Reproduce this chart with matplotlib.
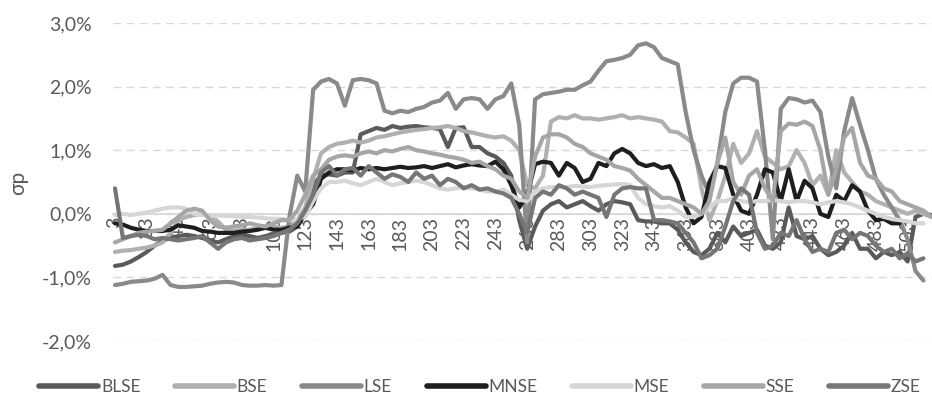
import numpy as np
import matplotlib
matplotlib.use("Agg")
import matplotlib.pyplot as plt
from matplotlib.ticker import FuncFormatter

plt.rcParams['font.family'] = ['Lato', 'DejaVu Sans']

# observation index (every 5th point of the original series)
x = np.arange(3, 519, 5)
nan = np.nan

# sigma_p in percent
BLSE = [-0.82, -0.80, -0.75, -0.68, -0.60, -0.50, -0.42, -0.38, -0.35, -0.33,
        -0.35, -0.38, -0.42, -0.45, -0.40, -0.35, -0.33, -0.35, -0.38, -0.35,
        -0.33, -0.30, -0.28, -0.20, 0.05, 0.45, 0.60, 0.62, 0.60, 0.65,
        0.65, 1.25, 1.30, 1.35, 1.32, 1.38, 1.35, 1.37, 1.38, 1.36,
        1.35, 1.33, 1.05, 1.35, 1.36, 1.05, 1.05, 0.95, 0.90, 0.80,
        0.60, -0.10, -0.55, -0.20, 0.05, 0.15, 0.20, 0.10, 0.15, 0.20,
        0.12, 0.05, 0.15, 0.20, 0.18, 0.15, -0.10, -0.12, -0.12, -0.15,
        -0.15, -0.25, -0.45, -0.60, -0.65, -0.55, -0.30, -0.45, -0.20, -0.35,
        -0.30, -0.25, -0.50, -0.55, -0.45, 0.10, -0.35, -0.40, -0.35, -0.55,
        -0.65, -0.60, -0.50, -0.30, -0.55, -0.55, -0.70, -0.60, -0.65, -0.60,
        -0.75, -0.05, 0.00, -0.02]

BSE = [-0.60, -0.58, -0.57, -0.55, -0.53, -0.50, -0.45, -0.30, -0.10, -0.05,
       -0.02, 0.00, -0.05, -0.12, -0.25, -0.27, -0.25, -0.25, -0.22, -0.20,
       -0.20, -0.22, -0.20, -0.10, 0.10, 0.55, 0.95, 1.05, 1.10, 1.12,
       1.15, 1.12, 1.15, 1.20, 1.22, 1.25, 1.28, 1.30, 1.32, 1.33,
       1.35, 1.36, 1.38, 1.35, 1.30, 1.28, 1.25, 1.22, 1.20, 1.22,
       1.15, 1.00, 0.45, 0.40, 0.60, 1.45, 1.52, 1.50, 1.55, 1.50,
       1.50, 1.48, 1.50, 1.52, 1.55, 1.50, 1.52, 1.50, 1.48, 1.45,
       1.30, 1.28, 1.20, 1.10, 0.40, -0.10, 0.20, 0.60, 1.10, 0.80,
       0.95, 1.30, 0.90, 0.80, 0.70, 0.75, 1.00, 0.80, 0.45, 0.60,
       0.30, 1.00, 0.65, 0.50, 0.35, 0.30, 0.20, 0.15, 0.10, 0.05,
       0.00, 0.05, 0.00, -0.05]

LSE = [-1.12, -1.10, -1.07, -1.06, -1.05, -1.02, -0.96, -1.12, -1.15, -1.15,
       -1.14, -1.13, -1.10, -1.08, -1.07, -1.08, -1.12, -1.13, -1.13, -1.12,
       -1.13, -1.12, -0.05, 0.60, 0.35, 1.95, 2.08, 2.12, 2.05, 1.70,
       2.10, 2.12, 2.10, 2.05, 1.62, 1.58, 1.62, 1.60, 1.65, 1.68,
       1.75, 1.78, 1.90, 1.65, 1.80, 1.82, 1.80, 1.65, 1.80, 1.85,
       2.05, 1.40, -0.45, 1.80, 1.88, 1.90, 1.92, 1.95, 1.95, 2.02,
       2.08, 2.25, 2.40, 2.42, 2.45, 2.50, 2.65, 2.68, 2.62, 2.45,
       2.40, 2.35, 1.60, 1.00, 0.60, 0.30, 0.80, 1.60, 2.05, 2.14,
       2.14, 2.08, 1.00, -0.40, 1.65, 1.82, 1.80, 1.75, 1.78, 1.60,
       0.90, 0.40, 1.30, 1.82, 1.40, 1.00, 0.55, 0.30, 0.10, -0.10,
       -0.40, -0.90, -1.05, nan]

MNSE = [-0.15, -0.17, -0.22, -0.25, -0.27, -0.27, -0.27, -0.25, -0.18, -0.20,
        -0.22, -0.27, -0.28, -0.30, -0.30, -0.30, -0.28, -0.27, -0.25, -0.22,
        -0.25, -0.25, -0.22, -0.20, 0.00, 0.15, 0.55, 0.65, 0.70, 0.70,
        0.68, 0.72, 0.70, 0.72, 0.70, 0.72, 0.74, 0.72, 0.73, 0.75,
        0.72, 0.75, 0.78, 0.73, 0.76, 0.78, 0.76, 0.75, 0.82, 0.70,
        0.45, 0.10, 0.30, 0.78, 0.82, 0.80, 0.60, 0.80, 0.72, 0.50,
        0.55, 0.80, 0.75, 0.95, 1.02, 0.95, 0.80, 0.75, 0.78, 0.72,
        0.75, 0.50, 0.10, -0.15, -0.05, 0.50, 0.75, 0.72, 0.30, 0.05,
        0.00, 0.30, 0.70, 0.65, 0.20, 0.70, 0.20, 0.52, 0.40, 0.00,
        -0.05, 0.30, 0.20, 0.45, 0.35, 0.05, -0.10, -0.08, -0.15, -0.15,
        nan, nan, nan, nan]

MSE = [-0.02, 0.00, -0.02, 0.00, 0.02, 0.05, 0.08, 0.10, 0.10, 0.08,
       0.00, -0.02, -0.03, -0.03, -0.03, -0.04, -0.05, -0.05, -0.06, -0.07,
       -0.08, -0.08, -0.10, -0.08, -0.05, 0.20, 0.40, 0.50, 0.50, 0.52,
       0.48, 0.45, 0.50, 0.55, 0.50, 0.45, 0.48, 0.50, 0.52, 0.50,
       0.45, 0.40, 0.38, 0.40, 0.42, 0.40, 0.38, 0.35, 0.35, 0.38,
       0.30, 0.22, 0.20, 0.35, 0.40, 0.42, 0.42, 0.42, 0.44, 0.43,
       0.42, 0.44, 0.45, 0.46, 0.47, 0.45, 0.25, 0.15, 0.12, 0.10,
       0.12, 0.05, -0.05, -0.05, 0.00, 0.10, 0.20, 0.20, 0.25, 0.20,
       0.18, 0.20, 0.20, 0.22, 0.20, 0.18, 0.20, 0.20, 0.18, 0.15,
       0.18, 0.20, 0.18, 0.15, 0.10, 0.05, 0.00, -0.05, -0.08, -0.10,
       -0.12, -0.15, -0.15, nan]

SSE = [-0.45, -0.40, -0.35, -0.30, -0.28, -0.27, -0.25, -0.15, -0.05, 0.05,
       0.08, 0.05, -0.10, -0.20, -0.22, -0.20, -0.18, -0.15, -0.18, -0.20,
       -0.15, -0.10, -0.10, 0.05, 0.30, 0.60, 0.70, 0.85, 0.90, 0.92,
       0.90, 0.95, 0.98, 0.95, 1.00, 0.98, 1.02, 1.05, 1.00, 0.98,
       0.95, 0.93, 0.90, 0.88, 0.85, 0.80, 0.82, 0.75, 0.70, 0.60,
       0.55, 0.35, 0.25, 0.90, 1.20, 1.25, 1.25, 1.20, 1.10, 1.05,
       0.95, 0.90, 0.85, 0.75, 0.72, 0.68, 0.55, 0.45, 0.35, 0.25,
       0.25, 0.20, 0.15, 0.10, 0.00, 0.20, 0.80, 1.20, 0.50, 0.30,
       0.60, 0.70, 0.40, 0.20, 1.30, 1.42, 1.40, 1.45, 1.38, 1.00,
       0.30, 0.70, 1.20, 1.35, 0.80, 0.60, 0.55, 0.40, 0.35, 0.20,
       0.15, 0.10, 0.05, -0.05]

ZSE = [0.40, -0.38, -0.35, -0.33, -0.35, -0.40, -0.38, -0.40, -0.42, -0.40,
       -0.38, -0.35, -0.45, -0.55, -0.45, -0.40, -0.38, -0.42, -0.40, -0.38,
       -0.35, -0.30, -0.25, -0.15, 0.05, 0.30, 0.65, 0.75, 0.60, 0.70,
       0.72, 0.60, 0.75, 0.65, 0.55, 0.62, 0.58, 0.50, 0.65, 0.55,
       0.60, 0.45, 0.55, 0.50, 0.40, 0.45, 0.38, 0.40, 0.35, 0.32,
       0.25, 0.00, -0.30, 0.25, 0.35, 0.30, 0.45, 0.40, 0.30, 0.35,
       0.30, 0.25, -0.05, 0.30, 0.40, 0.42, 0.40, 0.40, -0.10, -0.10,
       -0.12, -0.15, -0.30, -0.45, -0.70, -0.65, -0.55, -0.20, 0.20, 0.40,
       0.30, -0.30, -0.55, -0.50, -0.30, -0.35, -0.10, -0.40, -0.60, -0.55,
       -0.60, -0.30, -0.25, -0.40, -0.30, -0.35, -0.50, -0.60, -0.55, -0.70,
       -0.62, -0.75, -0.70, nan]

names = ['BLSE', 'BSE', 'LSE', 'MNSE', 'MSE', 'SSE', 'ZSE']
series = [BLSE, BSE, LSE, MNSE, MSE, SSE, ZSE]
colors = ['#5a5a5a', '#b0b0b0', '#8a8a8a', '#1e1e1e', '#d6d6d6', '#a6a6a6', '#767676']
tick_pos = list(range(3, 504, 20))

fig = plt.figure(figsize=(9.32, 4.01), dpi=100)
ax = fig.add_axes([113 / 932, 1 - 341 / 401, 819 / 932, 318 / 401])

for name, vals, c in zip(names, series, colors):
    ax.plot(x, vals, color=c, lw=3.0, label=name,
            solid_joinstyle='round', solid_capstyle='round', zorder=2)

ax.set_xlim(1.74, 518.4)
ax.set_ylim(-2, 3)
ax.set_yticks([-2, -1, 0, 1, 2, 3])
ax.yaxis.set_major_formatter(FuncFormatter(lambda v, p: f"{v:.1f}%".replace('.', ',')))
ax.grid(axis='y', color='#d9d9d9', lw=1.0, linestyle=(0, (5.5, 4)), zorder=0)
ax.set_axisbelow(True)

for s in ['top', 'right', 'left']:
    ax.spines[s].set_visible(False)
ax.spines['bottom'].set_position(('data', 0))
ax.spines['bottom'].set_color('#d9d9d9')
ax.spines['bottom'].set_linewidth(1.3)
ax.spines['bottom'].set_zorder(1)

ax.set_xticks(tick_pos)
ax.set_xticklabels([str(t) for t in tick_pos], rotation=90)
ax.tick_params(axis='x', length=0, pad=2, labelsize=14, labelcolor='#595959')
ax.tick_params(axis='y', length=0, pad=15, labelsize=14, labelcolor='#595959')

fig.text(18 / 932, 1 - 183 / 401, 'σp', rotation=90, ha='center', va='center',
         fontsize=15, color='#595959')

fig.legend(loc='center', bbox_to_anchor=(480 / 932, 1 - 387 / 401), ncol=7,
           frameon=False, fontsize=12.5, labelcolor='#595959', handlelength=3.4,
           handletextpad=0.15, columnspacing=2.0)
for h in fig.legends[0].get_lines():
    h.set_linewidth(4.0)
    h.set_solid_capstyle('round')

fig.savefig('out.png', dpi=100)
